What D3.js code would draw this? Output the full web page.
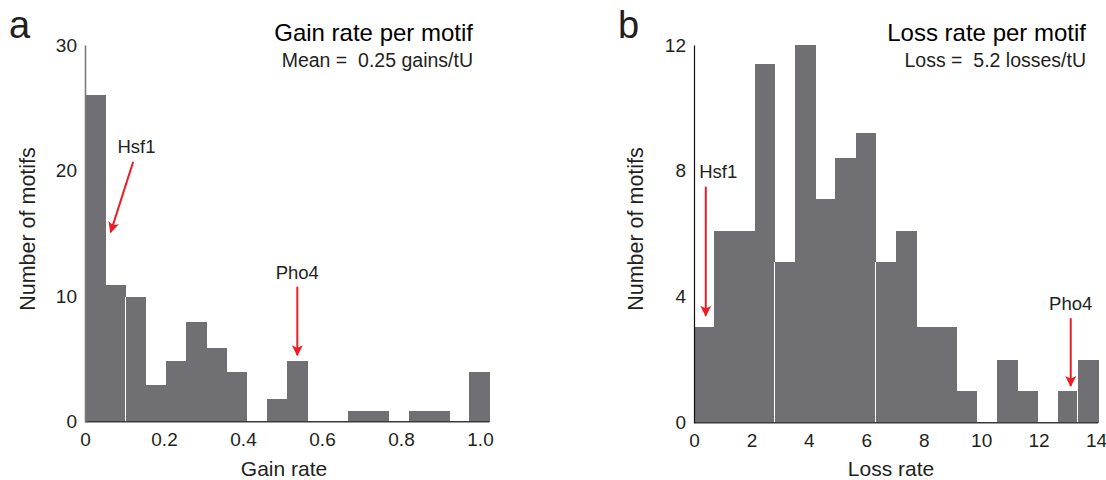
<!DOCTYPE html>
<html>
<head>
<meta charset="utf-8">
<script src="https://cdn.jsdelivr.net/npm/d3@7"></script>
<style>
  body { margin: 0; background: #fff; }
  svg { font-family: "Liberation Sans", Arial, sans-serif; }
</style>
</head>
<body>
<svg id="chart" width="1106" height="480"></svg>
<script>
// histogram counts per bin (20 bins each)
const gainCounts = [26, 10.9, 9.95, 2.9, 4.85, 7.95, 5.9, 3.95, 0, 1.8,
                    4.85, 0, 0, 0.85, 0.85, 0, 0.85, 0.85, 0, 3.95];
const gainBinWidth = 0.0512;
const gainXTicks = [0, 0.2, 0.4, 0.6, 0.8, 1.0];
const gainYTicks = [0, 10, 20, 30];

const lossCounts = [3.05, 6.1, 6.1, 11.4, 5.1, 12, 7.1, 8.4, 9.2, 5.1,
                    6.1, 3.05, 3.05, 1, 0, 2, 1, 0, 1, 2];
const lossBinWidth = 0.7035;
const lossXTicks = [0, 2, 4, 6, 8, 10, 12, 14];
const lossYTicks = [0, 4, 8, 12];

// bin edges where the original shows a thin white seam
const gainSeams = [2];
const lossSeams = [4, 9, 19];

// annotations: [label, textX, textY, arrowX0, arrowY0, arrowX1, arrowY1, anchor]
const gainNotes = [
  ["Hsf1", 0.082, 21.4, 0.122, 20.7, 0.065, 15.1, "start"],
  ["Pho4", 0.5375, 11.4, 0.5375, 10.75, 0.5375, 5.3, "middle"],
];
const lossNotes = [
  ["Hsf1", 0.18, 7.77, 0.41, 7.5, 0.41, 3.4, "start"],
  ["Pho4", 13.12, 3.58, 13.12, 3.32, 13.12, 1.17, "middle"],
];

const barColor = "#707074";
const red = "#ec1c24";
const ink = "#231f20";

const svg = d3.select("#chart");

svg.append("defs").append("marker")
  .attr("id", "arrow")
  .attr("viewBox", "0 0 10 10")
  .attr("refX", 9).attr("refY", 5)
  .attr("markerWidth", 6).attr("markerHeight", 5.5)
  .attr("markerUnits", "strokeWidth")
  .attr("orient", "auto")
  .append("path")
  .attr("d", "M0,0 L10,5 L0,10 L2.5,5 Z")
  .attr("fill", red);

function drawPanel(cfg) {
  const x = d3.scaleLinear().domain(cfg.xDomain).range(cfg.xRange);
  const y = d3.scaleLinear().domain(cfg.yDomain).range(cfg.yRange);
  const g = svg.append("g");

  // bars
  g.selectAll("rect.bar")
    .data(cfg.counts)
    .enter()
    .append("rect")
    .attr("class", "bar")
    .attr("x", (d, i) => x(i * cfg.binWidth))
    .attr("width", (d, i) => x((i + 1) * cfg.binWidth) - x(i * cfg.binWidth) + 0.5)
    .attr("y", (d) => y(d))
    .attr("height", (d) => y(0) - y(d))
    .attr("fill", barColor)
    .attr("shape-rendering", "crispEdges");

  // white seams between some bars
  g.selectAll("line.seam")
    .data(cfg.seams)
    .enter()
    .append("line")
    .attr("x1", (k) => x(k * cfg.binWidth))
    .attr("x2", (k) => x(k * cfg.binWidth))
    .attr("y1", (k) => y(Math.min(cfg.counts[k], cfg.counts[k - 1])))
    .attr("y2", y(0))
    .attr("stroke", "#fff")
    .attr("stroke-width", 1)
    .attr("shape-rendering", "crispEdges");

  // baseline
  g.append("line")
    .attr("x1", x(0)).attr("x2", x(cfg.counts.length * cfg.binWidth))
    .attr("y1", y(0)).attr("y2", y(0))
    .attr("stroke", "#3a3a3a").attr("stroke-width", 1.5);

  // y axis
  const yAxis = g.append("g")
    .attr("transform", `translate(${x(0)},0)`)
    .call(d3.axisLeft(y).tickValues(cfg.yTicks).tickSize(0).tickPadding(8));
  yAxis.select(".domain").attr("stroke", cfg.yAxisColor).attr("stroke-width", cfg.yAxisWidth);
  yAxis.selectAll("text").attr("font-size", 19).attr("fill", ink)
    .attr("font-family", "Liberation Sans, Arial, sans-serif");

  // x axis
  const xAxis = g.append("g")
    .attr("transform", `translate(0,${y(0)})`)
    .call(d3.axisBottom(x).tickValues(cfg.xTicks).tickFormat(cfg.xFormat)
      .tickSize(0).tickPadding(11));
  xAxis.select(".domain").remove();
  xAxis.selectAll("text").attr("font-size", 19).attr("fill", ink)
    .attr("font-family", "Liberation Sans, Arial, sans-serif");

  // axis titles
  g.append("text")
    .attr("x", cfg.xTitleX).attr("y", 476)
    .attr("text-anchor", "middle")
    .attr("font-size", 21).attr("fill", ink)
    .text(cfg.xTitle);

  g.append("text")
    .attr("transform", `translate(${cfg.yTitleX},229) rotate(-90)`)
    .attr("text-anchor", "middle")
    .attr("font-size", 21.5).attr("fill", ink)
    .text("Number of motifs");

  // panel letter
  g.append("text")
    .attr("x", cfg.letterX).attr("y", 38)
    .attr("font-size", 38).attr("fill", ink)
    .text(cfg.letter);

  // title and subtitle
  g.append("text")
    .attr("x", cfg.titleRight).attr("y", 41)
    .attr("text-anchor", "end")
    .attr("font-size", 24).attr("fill", "#000")
    .text(cfg.title);
  g.append("text")
    .attr("x", cfg.titleRight).attr("y", 67)
    .attr("text-anchor", "end")
    .attr("font-size", 19.5).attr("fill", ink)
    .attr("xml:space", "preserve")
    .text(cfg.subtitle);

  // annotations
  cfg.notes.forEach(([label, tx, ty, ax0, ay0, ax1, ay1, anchor]) => {
    g.append("text")
      .attr("x", x(tx)).attr("y", y(ty))
      .attr("text-anchor", anchor)
      .attr("font-size", 18.5).attr("fill", ink)
      .text(label);
    g.append("line")
      .attr("x1", x(ax0)).attr("y1", y(ay0))
      .attr("x2", x(ax1)).attr("y2", y(ay1))
      .attr("stroke", red).attr("stroke-width", 2)
      .attr("marker-end", "url(#arrow)");
  });
}

drawPanel({
  counts: gainCounts, binWidth: gainBinWidth, seams: gainSeams,
  xDomain: [0, 1], xRange: [85, 480],
  yDomain: [0, 30], yRange: [421.7, 45],
  xTicks: gainXTicks, yTicks: gainYTicks,
  xFormat: (d) => (d === 0 ? "0" : d3.format(".1f")(d)),
  yAxisColor: "#7a7a7a", yAxisWidth: 1.6,
  xTitle: "Gain rate", xTitleX: 284, yTitleX: 35,
  letter: "a", letterX: 9,
  title: "Gain rate per motif", subtitle: "Mean =  0.25 gains/tU",
  titleRight: 473, notes: gainNotes,
});

drawPanel({
  counts: lossCounts, binWidth: lossBinWidth, seams: lossSeams,
  xDomain: [0, 14], xRange: [694, 1096],
  yDomain: [0, 12], yRange: [422.7, 45],
  xTicks: lossXTicks, yTicks: lossYTicks,
  xFormat: d3.format("d"),
  yAxisColor: "#111", yAxisWidth: 1.2,
  xTitle: "Loss rate", xTitleX: 891, yTitleX: 643,
  letter: "b", letterX: 618,
  title: "Loss rate per motif", subtitle: "Loss =  5.2 losses/tU",
  titleRight: 1086, notes: lossNotes,
});
</script>
</body>
</html>
